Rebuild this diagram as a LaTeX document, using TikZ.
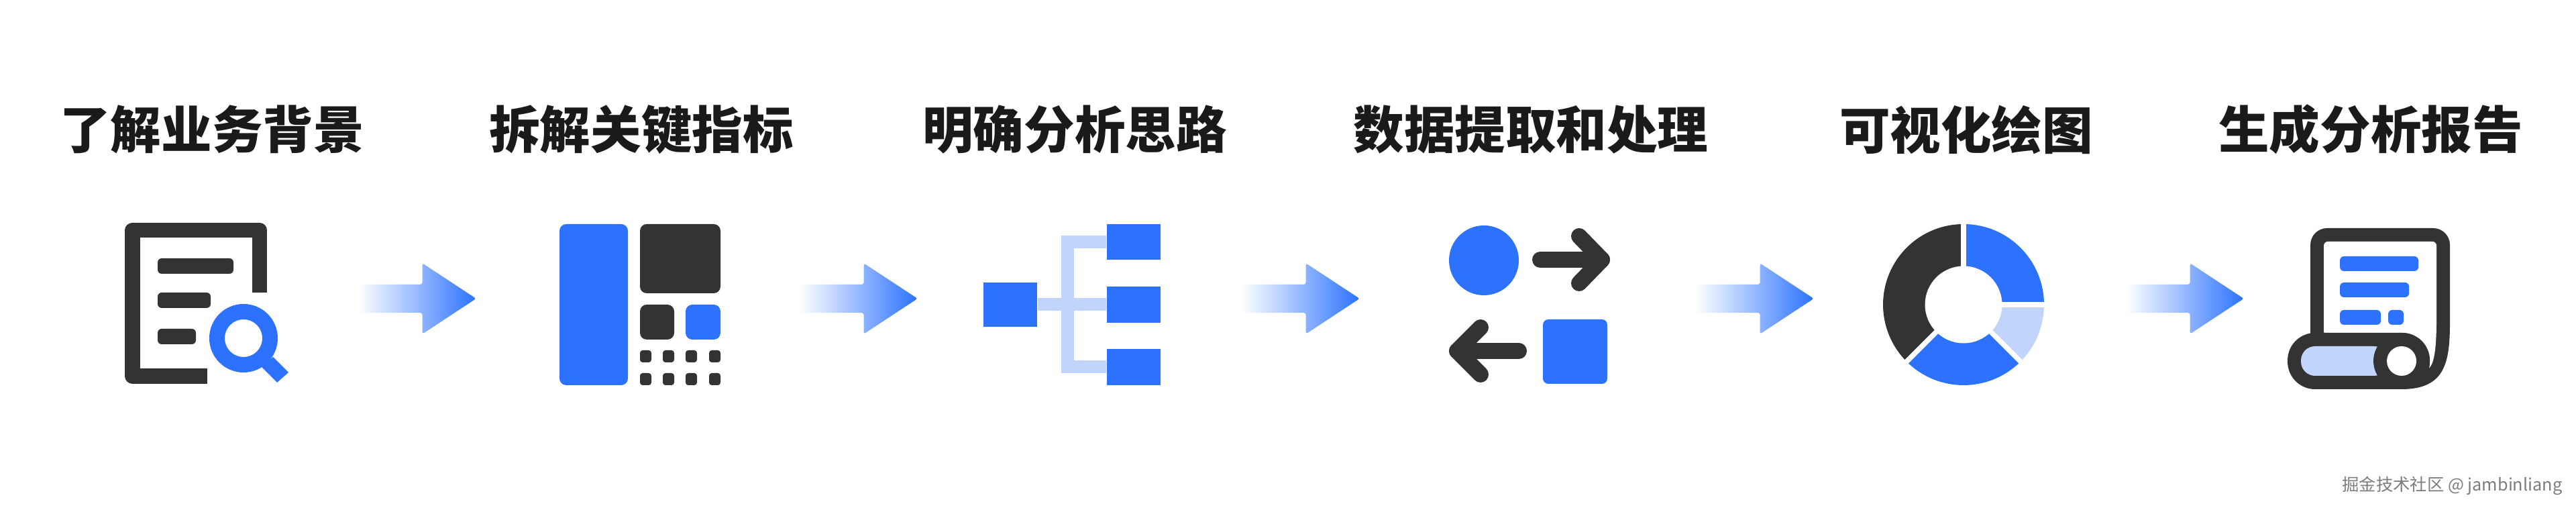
\documentclass[tikz,border=0pt]{standalone}
\usepackage{fontspec}
\usepackage{tikz}
\usetikzlibrary{shapes.arrows}
\newfontfamily\cjk{Noto Sans CJK SC}
\definecolor{iconblue}{RGB}{44,114,255}
\definecolor{icondark}{RGB}{51,51,51}
\definecolor{iconlight}{RGB}{192,212,252}
\definecolor{titleblack}{RGB}{26,26,26}
\definecolor{markgray}{RGB}{125,125,125}
\tikzset{
  steptitle/.style={font=\cjk\bfseries\fontsize{21.5pt}{25pt}\selectfont,text=titleblack,inner sep=0pt},
  watermark/.style={font=\cjk\fontsize{7.2pt}{9pt}\selectfont,text=markgray,inner sep=0pt},
  flowarrow/.style={single arrow,anchor=tail,inner xsep=0pt,inner ysep=0.205cm,minimum height=1.76cm,minimum width=1.04cm,
                    single arrow head extend=0.315cm,single arrow tip angle=66.7,single arrow head indent=0cm,
                    rounded corners=0.03cm,left color=white,right color=iconblue,draw=none},
  darkbar/.style={fill=icondark,rounded corners=0.06cm},
  bluebar/.style={fill=iconblue,rounded corners=0.06cm},
  thickdark/.style={draw=icondark,line width=0.24cm,line cap=round,line join=round},
  treebox/.style={fill=iconblue,inner sep=0pt,minimum width=0.8cm,minimum height=0.535cm},
  treeline/.style={draw=iconlight,line width=0.19cm},
  donutgap/.style={draw=white,line width=0.075cm},
}
\begin{document}
\begin{tikzpicture}[x=1cm,y=1cm]
  \path[use as bounding box,fill=white] (0,0) rectangle (38.4,7.6);

  \node[steptitle] (title1) at (3.16,5.67) {了解业务背景};
  \node[steptitle] (title2) at (9.56,5.67) {拆解关键指标};
  \node[steptitle] (title3) at (16.02,5.67) {明确分析思路};
  \node[steptitle] (title4) at (22.82,5.67) {数据提取和处理};
  \node[steptitle] (title5) at (29.31,5.67) {可视化绘图};
  \node[steptitle] (title6) at (35.34,5.67) {生成分析报告};

  \node[flowarrow] (arrow1) at (5.33,3.15) {};
  \node[flowarrow] (arrow2) at (11.91,3.15) {};
  \node[flowarrow] (arrow3) at (18.50,3.15) {};
  \node[flowarrow] (arrow4) at (25.27,3.15) {};
  \node[flowarrow] (arrow5) at (31.68,3.15) {};

  \draw[icondark,line width=0.225cm,line join=round] (3.8675,3.24) -- (3.8675,4.17) -- (1.975,4.17) -- (1.975,1.995) -- (3.09,1.995);
  \path[darkbar] (2.35,3.52) rectangle (3.48,3.75);
  \path[darkbar] (2.35,3.01) rectangle (3.14,3.24);
  \path[darkbar] (2.35,2.47) rectangle (2.92,2.70);
  \draw[iconblue,line width=0.23cm] (3.63,2.56) circle[radius=0.395];
  \fill[iconblue] (4.07,2.28) -- (4.30,2.05) -- (4.13,1.90) -- (3.90,2.13) -- cycle;

  \fill[iconblue,rounded corners=0.1cm] (8.34,1.86) rectangle (9.36,4.26);
  \fill[icondark,rounded corners=0.1cm] (9.54,3.23) rectangle (10.74,4.26);
  \fill[icondark,rounded corners=0.1cm] (9.54,2.54) rectangle (10.05,3.06);
  \fill[iconblue,rounded corners=0.1cm] (10.22,2.54) rectangle (10.74,3.06);
  \fill[icondark,rounded corners=0.04cm] (9.54,2.20) rectangle ++(0.17,0.18) (9.88,2.20) rectangle ++(0.17,0.18)
    (10.22,2.20) rectangle ++(0.17,0.18) (10.57,2.20) rectangle ++(0.17,0.18);
  \fill[icondark,rounded corners=0.04cm] (9.54,1.86) rectangle ++(0.17,0.18) (9.88,1.86) rectangle ++(0.17,0.18)
    (10.22,1.86) rectangle ++(0.17,0.18) (10.57,1.86) rectangle ++(0.17,0.18);

  \node[treebox,minimum height=0.66cm] (root) at (15.06,3.06) {};
  \node[treebox] (leaf1) at (16.90,3.995) {};
  \node[treebox] (leaf2) at (16.90,3.06) {};
  \node[treebox] (leaf3) at (16.90,2.13) {};
  \coordinate (trunk) at (15.915,3.06);
  \draw[treeline] (root) -- (leaf2);
  \draw[treeline] (leaf1.west) -| (trunk) |- (leaf3.west);

  \fill[iconblue] (22.12,3.72) circle[radius=0.52];
  \draw[thickdark] (22.96,3.73) -- (23.88,3.73);
  \draw[thickdark] (23.54,4.08) -- (23.88,3.73) -- (23.54,3.38);
  \draw[thickdark] (22.64,2.37) -- (21.72,2.37);
  \draw[thickdark] (22.07,2.72) -- (21.72,2.37) -- (22.07,2.02);
  \fill[iconblue,rounded corners=0.08cm] (23.00,1.88) rectangle (23.96,2.84);

  \coordinate (donut) at (29.27,3.06);
  \fill[icondark] (donut) -- ++(90:1.2) arc[start angle=90,end angle=225,radius=1.2] -- cycle;
  \fill[iconblue] (donut) -- ++(90:1.2) arc[start angle=90,end angle=0,radius=1.2] -- cycle;
  \fill[iconlight] (donut) -- ++(0:1.2) arc[start angle=0,end angle=-45,radius=1.2] -- cycle;
  \fill[iconblue] (donut) -- ++(225:1.2) arc[start angle=225,end angle=315,radius=1.2] -- cycle;
  \draw[donutgap] (donut) -- ++(90:1.3);
  \draw[donutgap] (donut) -- ++(0:1.3);
  \draw[donutgap] (donut) -- ++(225:1.3);
  \draw[donutgap] (donut) -- ++(315:1.3);
  \fill[white] (donut) circle[radius=0.575];

  \fill[icondark] (34.44,2.4) -- (34.44,3.95) to[out=90,in=180] (34.69,4.20) -- (36.27,4.20) to[out=0,in=90] (36.52,3.95)
    -- (36.52,2.8) .. controls (36.52,2.2) and (36.45,1.80) .. (35.80,1.80) -- cycle;
  \fill[white,rounded corners=0.06cm] (34.64,2.6) -- (34.64,4.00) -- (36.32,4.00) -- (36.32,2.9)
    .. controls (36.32,2.5) and (36.30,2.2) .. (36.17,2.08) -- (36.0,2.08) -- (36.0,2.6) -- cycle;
  \path[bluebar] (34.88,3.56) rectangle (36.05,3.78);
  \path[bluebar] (34.88,3.17) rectangle (35.91,3.39);
  \path[bluebar] (34.88,2.76) rectangle (35.49,2.98);
  \path[bluebar] (35.60,2.76) rectangle (35.83,2.98);
  \fill[icondark,rounded corners=0.41cm] (34.10,1.80) rectangle (36.22,2.64);
  \fill[iconlight,rounded corners=0.21cm] (34.30,2.00) rectangle (35.6,2.44);
  \fill[icondark] (35.80,2.22) circle[radius=0.42];
  \fill[white] (35.80,2.22) circle[radius=0.22];

  \node[watermark] (credit) at (36.555,0.36) {掘金技术社区 @ jambinliang};
\end{tikzpicture}
\end{document}
